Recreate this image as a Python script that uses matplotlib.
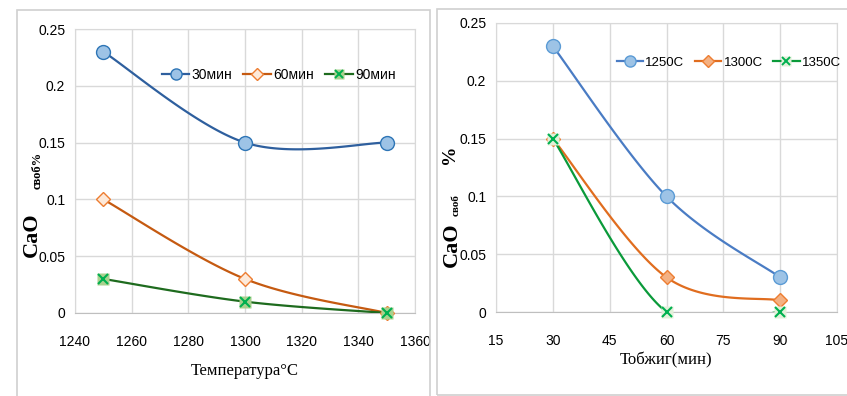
import numpy as np
import matplotlib
matplotlib.use("Agg")
import matplotlib.pyplot as plt
from matplotlib.patches import Rectangle

plt.rcParams['font.family'] = ['Liberation Sans', 'DejaVu Sans']

# left chart: CaO vs temperature
temp = [1250, 1300, 1350]
cao_30 = [0.23, 0.15, 0.15]
cao_60 = [0.10, 0.03, 0.0]
cao_90 = [0.03, 0.01, 0.0]
left_names = ["30мин", "60мин", "90мин"]

# right chart: CaO vs time
time_min = [30, 60, 90]
cao_1250 = [0.23, 0.10, 0.03]
cao_1300 = [0.15, 0.03, 0.01]
cao_1350 = [0.15, 0.0, 0.0]
right_names = ["1250C", "1300C", "1350C"]

left_xticks = [1240, 1260, 1280, 1300, 1320, 1340, 1360]
right_xticks = [15, 30, 45, 60, 75, 90, 105]
yticks = [0, 0.05, 0.1, 0.15, 0.2, 0.25]
ytick_labels = ["0", "0.05", "0.1", "0.15", "0.2", "0.25"]

serif = ["Liberation Serif", "DejaVu Serif"]


def smooth(x, y, n=60):
    # excel-like smoothed line (bezier through points)
    pts = np.column_stack([x, y]).astype(float)
    out = []
    for i in range(len(pts) - 1):
        p0 = pts[i - 1] if i > 0 else pts[i]
        p3 = pts[i + 2] if i + 2 < len(pts) else pts[i + 1]
        p1, p2 = pts[i], pts[i + 1]
        c1 = p1 + (p2 - p0) / 6
        c2 = p2 - (p3 - p1) / 6
        t = np.linspace(0, 1, n)[:, None]
        out.append((1 - t) ** 3 * p1 + 3 * (1 - t) ** 2 * t * c1 + 3 * (1 - t) * t ** 2 * c2 + t ** 3 * p2)
    return np.vstack(out)


def series(ax, x, y, line_c, marker, mfc, mec, ms, xmark=False):
    s = smooth(x, y)
    ax.plot(s[:, 0], s[:, 1], color=line_c, lw=1.6, zorder=3)
    if xmark:
        ax.plot(x, y, ls="none", marker="s", ms=ms, mfc=mfc, mec="none", zorder=4, clip_on=False)
        ax.plot(x, y, ls="none", marker="x", ms=ms * 0.8, mec=mec, mew=1.5, zorder=5, clip_on=False)
        hl = plt.Line2D([], [], color=line_c, lw=1.6)
        h1 = plt.Line2D([], [], ls="none", marker="s", ms=ms * 0.75, mfc=mfc, mec="none")
        h2 = plt.Line2D([], [], ls="none", marker="x", ms=ms * 0.65, mec=mec, mew=1.4)
        return (hl, h1, h2)
    ax.plot(x, y, ls="none", marker=marker, ms=ms, mfc=mfc, mec=mec, mew=1.0, zorder=4, clip_on=False)
    return plt.Line2D([], [], color=line_c, lw=1.6, marker=marker, ms=ms * 0.8, mfc=mfc, mec=mec)


def style(ax, xlim, xticks):
    ax.set_xlim(xlim)
    ax.set_ylim(0, 0.25)
    ax.set_xticks(xticks)
    ax.set_yticks(yticks)
    ax.set_yticklabels(ytick_labels)
    ax.grid(True, color="#d9d9d9", lw=1.0)
    ax.set_axisbelow(True)
    for sp in ax.spines.values():
        sp.set_color("#d9d9d9")
    ax.spines["bottom"].set_color("#bfbfbf")
    ax.tick_params(length=0, labelsize=10)
    ax.tick_params(axis="x", pad=16)
    ax.tick_params(axis="y", pad=7)


fig = plt.figure(figsize=(8.47, 3.96), dpi=100)
fig.patches.append(Rectangle((17 / 847, -0.01), 413 / 847, 1 - 10 / 396 + 0.01, transform=fig.transFigure,
                             fill=False, ec="#d0d0d0", lw=1.2))
fig.patches.append(Rectangle((437 / 847, 1 - 395 / 396), 420 / 847, 386 / 396, transform=fig.transFigure,
                             fill=False, ec="#d0d0d0", lw=1.2))

ax1 = fig.add_axes([75 / 847, 1 - 313 / 396, 340 / 847, 284 / 396])
style(ax1, (1240, 1360), left_xticks)
h = [series(ax1, temp, cao_30, "#2e5f9e", "o", "#9dc3e6", "#2e75b6", 10),
     series(ax1, temp, cao_60, "#c55a11", "D", "#fde9d9", "#ed7d31", 7.5),
     series(ax1, temp, cao_90, "#1e6b1e", None, "#a9d18e", "#00b050", 9, xmark=True)]
ax1.legend(h, left_names, loc="center left", bbox_to_anchor=(0.255, 0.838), ncol=3, frameon=False,
           fontsize=10, handlelength=2.0, columnspacing=0.8, handletextpad=0.15,
           borderaxespad=0, borderpad=0)
ax1.set_xlabel("Температура°C", family=serif, fontsize=12, labelpad=10)
fig.text(32 / 847, 1 - 235 / 396, "CaO", rotation=90, ha="center", va="center",
         family=serif, fontsize=16, weight="bold")
fig.text(38 / 847, 1 - 170 / 396, "своб%", rotation=90, ha="center", va="center",
         family=serif, fontsize=9, weight="bold")

ax2 = fig.add_axes([496 / 847, 1 - 312 / 396, 341 / 847, 289 / 396])
style(ax2, (15, 105), right_xticks)
h = [series(ax2, time_min, cao_1250, "#4a7cc4", "o", "#9dc3e6", "#5b9bd5", 10),
     series(ax2, time_min, cao_1300, "#e06d1f", "D", "#f4b183", "#ed7d31", 7.5),
     series(ax2, time_min, cao_1350, "#0a9a3a", None, "#e2f0d9", "#00b050", 9, xmark=True)]
ax2.legend(h, right_names, loc="center left", bbox_to_anchor=(0.355, 0.862), ncol=3, frameon=False,
           fontsize=9.5, handlelength=2.0, columnspacing=0.8, handletextpad=0.15,
           borderaxespad=0, borderpad=0)
ax2.set_xlabel("Тобжиг(мин)", family=serif, fontsize=12, labelpad=3)
fig.text(452 / 847, 1 - 245 / 396, "CaO", rotation=90, ha="center", va="center",
         family=serif, fontsize=16, weight="bold")
fig.text(456 / 847, 1 - 205 / 396, "своб", rotation=90, ha="center", va="center",
         family=serif, fontsize=8, weight="bold")
fig.text(449 / 847, 1 - 154 / 396, "%", rotation=90, ha="center", va="center",
         family=serif, fontsize=14, weight="bold")

fig.savefig("out.png", dpi=100)
